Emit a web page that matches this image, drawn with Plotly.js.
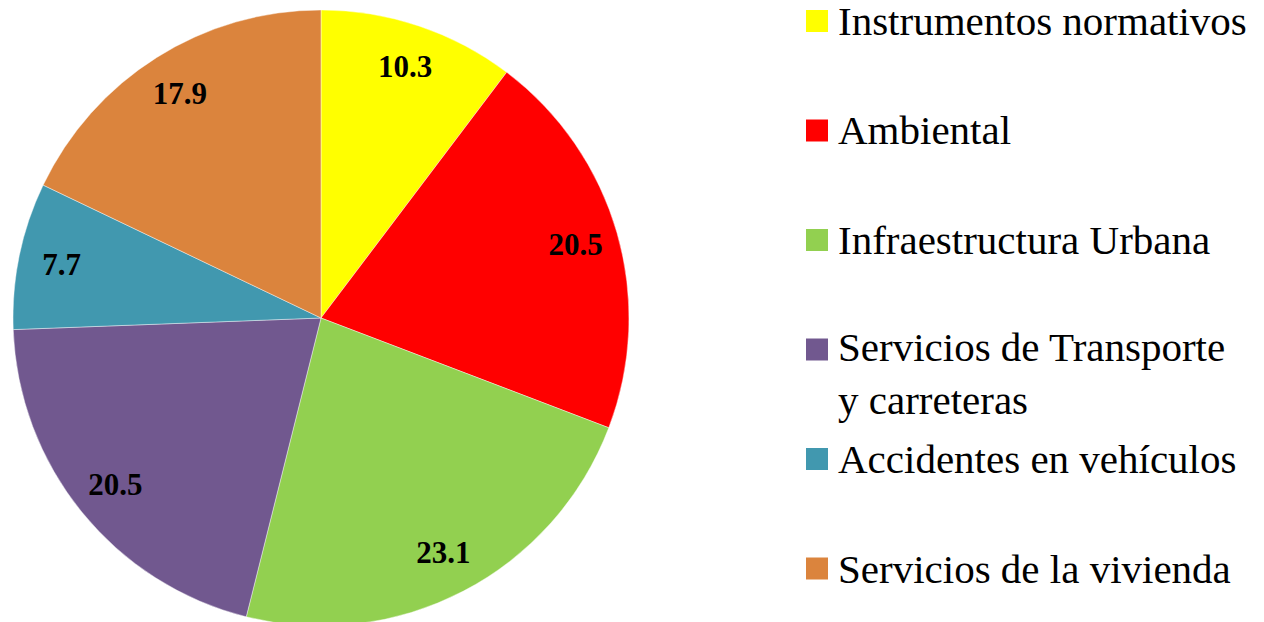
<!DOCTYPE html>
<html>
<head>
<meta charset="utf-8">
<script src="https://cdn.plot.ly/plotly-3.0.1.min.js"></script>
<style>
html,body{margin:0;padding:0;overflow:hidden;background:#fff;}
#chart{width:1264px;height:626px;}
</style>
</head>
<body>
<div id="chart"></div>
<script>
const categories = [
  "Instrumentos normativos",
  "Ambiental",
  "Infraestructura Urbana",
  "Servicios de Transporte<br>y carreteras",
  "Accidentes en vehículos",
  "Servicios de la vivienda"
];
const values = [10.3, 20.5, 23.1, 20.5, 7.7, 17.9];
const colors = ["#FFFF00", "#FF0000", "#92D050", "#71588F", "#4198AF", "#DB843D"];

const FONT = 'Liberation Serif';
const W = 1264, H = 626, T = 10;
const px2x = px => px / W;
const py2y = py => (H - py) / (H - T);
const domainX = [px2x(13), px2x(629)];

function draw() {
  const pie = {
    type: 'pie',
    labels: categories,
    values: values,
    sort: false,
    direction: 'clockwise',
    rotation: 0,
    marker: {colors: colors, line: {color: 'rgba(255,255,255,0.7)', width: 0.6}},
    textinfo: 'none',
    hoverinfo: 'label+value',
    showlegend: false,
    domain: {x: domainX, y: [0, 1]}
  };
  const labelsRing = {
    type: 'pie',
    labels: categories,
    values: values,
    sort: false,
    direction: 'clockwise',
    rotation: 0,
    hole: 0.72,
    marker: {colors: values.map(() => 'rgba(0,0,0,0)'), line: {width: 0}},
    textinfo: 'value',
    textposition: 'inside',
    insidetextorientation: 'horizontal',
    insidetextfont: {family: FONT, size: 31, weight: 'bold', color: '#000'},
    hoverinfo: 'skip',
    showlegend: false,
    domain: {x: domainX, y: [0, 1]}
  };

  const shapes = [], annotations = [];
  const start = 21, step = 109.5, sq = 22, lineH = 48;
  categories.forEach((c, i) => {
    const cy = start + i * step;
    shapes.push({
      type: 'rect', xref: 'paper', yref: 'paper',
      x0: px2x(806), x1: px2x(806 + sq),
      y0: py2y(cy - sq / 2), y1: py2y(cy + sq / 2),
      fillcolor: colors[i], line: {width: 0}
    });
    const nLines = c.split('<br>').length;
    annotations.push({
      xref: 'paper', yref: 'paper',
      x: px2x(836), y: py2y(cy + (nLines - 1) * lineH / 2),
      xanchor: 'left', yanchor: 'middle', align: 'left',
      showarrow: false, text: c,
      font: {family: FONT, size: 41, color: '#000'}
    });
  });

  return Plotly.newPlot('chart', [pie, labelsRing], {
    width: W, height: H,
    margin: {l: 0, r: 0, t: T, b: 0},
    font: {family: FONT},
    paper_bgcolor: '#fff', plot_bgcolor: '#fff',
    showlegend: false,
    shapes: shapes,
    annotations: annotations
  }, {displayModeBar: false, staticPlot: true});
}

const fontReady = (document.fonts && document.fonts.load)
  ? Promise.all([
      document.fonts.load('41px "Liberation Serif"', 'Instrumentos vehículos'),
      document.fonts.load('bold 31px "Liberation Serif"', '0123456789.')
    ]).catch(() => null)
  : Promise.resolve();

fontReady.then(draw).then(() => {
  if (document.fonts && document.fonts.ready) {
    return document.fonts.ready.then(() => Plotly.redraw('chart'));
  }
});
</script>
</body>
</html>
